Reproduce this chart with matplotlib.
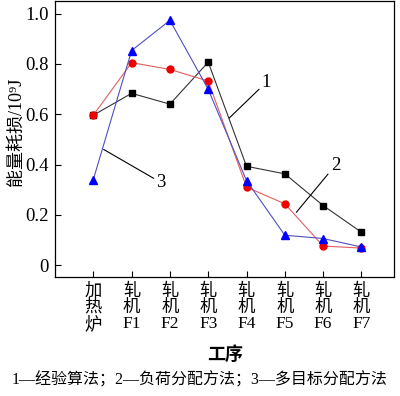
import matplotlib
matplotlib.use("Agg")
import matplotlib.pyplot as plt

plt.rcParams['font.family'] = ['Liberation Serif', 'Noto Sans CJK SC']

stages = ['加\n热\n炉', '轧\n机\nF1', '轧\n机\nF2', '轧\n机\nF3',
          '轧\n机\nF4', '轧\n机\nF5', '轧\n机\nF6', '轧\n机\nF7']
empirical = [0.596, 0.683, 0.640, 0.807, 0.393, 0.363, 0.237, 0.131]
load_dist = [0.596, 0.805, 0.778, 0.732, 0.310, 0.244, 0.076, 0.068]
multi_obj = [0.340, 0.853, 0.973, 0.699, 0.336, 0.119, 0.106, 0.072]
yticks = [0, 0.2, 0.4, 0.6, 0.8, 1.0]
ytick_labels = ['0', '0.2', '0.4', '0.6', '0.8', '1.0']

fig = plt.figure(figsize=(4.0, 3.96), dpi=100)
ax = fig.add_axes([0.1375, 0.3005, 0.8475, 0.697])

x = list(range(len(stages)))
ax.plot(x, empirical, '-s', color='#333333', mfc='black', mec='black',
        lw=0.8, ms=5)
ax.plot(x, load_dist, '-o', color='#e06060', mfc='#ee0000', mec='#ee0000',
        lw=0.8, ms=5)
ax.plot(x, multi_obj, '-^', color='#5050c0', mfc='#0000ff', mec='#0000ff',
        lw=0.8, ms=6)

# leader lines with labels
ax.annotate('1', xy=(3.55, 0.585), xytext=(4.4, 0.71), fontsize=13.5,
            arrowprops=dict(arrowstyle='-', color='black', lw=0.8,
                            shrinkA=0, shrinkB=0))
ax.annotate('2', xy=(5.3, 0.21), xytext=(6.2, 0.38), fontsize=13.5,
            arrowprops=dict(arrowstyle='-', color='black', lw=0.8,
                            shrinkA=0, shrinkB=0))
ax.annotate('3', xy=(0.27, 0.46), xytext=(1.65, 0.31), fontsize=13.5,
            arrowprops=dict(arrowstyle='-', color='black', lw=0.8,
                            shrinkA=0, shrinkB=0))

ax.set_xlim(-1, 7.85)
ax.set_ylim(-0.047, 1.05)
ax.set_xticks(x)
ax.set_xticklabels(stages, fontsize=12.5, linespacing=1.0)
ax.set_yticks(yticks)
ax.set_yticklabels(ytick_labels, fontsize=13.5)
ax.tick_params(direction='in', length=4, width=0.8, pad=4.5)
for s in ax.spines.values():
    s.set_linewidth(0.9)

ax.set_ylabel('能量耗损/10⁹J', fontsize=13)
ax.yaxis.set_label_coords(-0.09, 0.527)
fig.text(0.5625, 0.103, '工序', ha='center', va='center', fontsize=13,
         fontweight='bold')
fig.text(0.5, 0.04, '1—经验算法；2—负荷分配方法；3—多目标分配方法',
         ha='center', va='center', fontsize=11.5)

fig.savefig('out.png', dpi=100)
